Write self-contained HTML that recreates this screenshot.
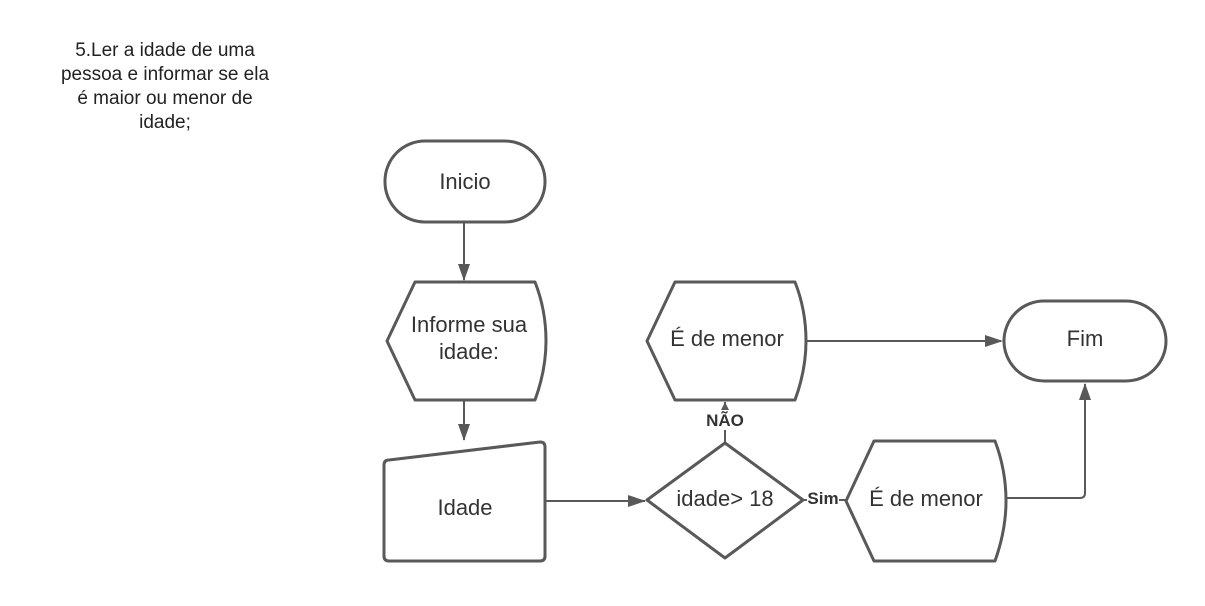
<!DOCTYPE html>
<html><head><meta charset="utf-8"><style>
body{margin:0;background:#fff;width:1205px;height:601px;overflow:hidden;font-family:"Liberation Sans",sans-serif}
</style></head><body>
<svg width="1205" height="601" xmlns="http://www.w3.org/2000/svg" font-family="Liberation Sans, sans-serif">
<text x="165" y="56" font-size="19" fill="#222" text-anchor="middle">5.Ler a idade de uma</text>
<text x="165" y="80" font-size="19" fill="#222" text-anchor="middle">pessoa e informar se ela</text>
<text x="165" y="104" font-size="19" fill="#222" text-anchor="middle">é maior ou menor de</text>
<text x="165" y="128" font-size="19" fill="#222" text-anchor="middle">idade;</text>
<g stroke="#595959" stroke-width="3" fill="none" stroke-linejoin="round">
<rect x="385" y="141" width="160" height="81" rx="40"/>
<path d="M415,282 H535 Q546,310 546,341 Q546,370 535,400 H415 L387,341 Z"/>
<path d="M675,282 H795 Q806,310 806,341 Q806,370 795,400 H675 L647,341 Z"/>
<path d="M874,441 H995 Q1006,470 1006,501 Q1006,530 995,561 H874 L846,501 Z"/>
<rect x="1004" y="301" width="162" height="80" rx="40"/>
<path d="M389,460 L540,442 Q545,442 545,447 V556 Q545,561 540,561 H389 Q384,561 384,556 V465 Q384,460 389,460 Z"/>
<path d="M725,443 L803,500 L725,558 L647,500 Z"/>
</g>
<g stroke="#595959" stroke-width="2" fill="none">
<path d="M464,222 V280"/><path d="M464,400 V440"/>
<path d="M546,501 H645"/>
<path d="M725,443 V402"/>
<path d="M806,341 H1001"/>
<path d="M1006,498 H1080 Q1085,498 1085,493 V384"/>
<path d="M803,500 H846"/>
</g>
<g fill="#595959">
<path d="M458,264 L470,264 L464,281 Z"/>
<path d="M458,424 L470,424 L464,441 Z"/>
<path d="M628,495 L628,507 L646,501 Z"/>
<path d="M985,335 L985,347 L1003,341 Z"/>
<path d="M1079,400 L1091,400 L1085,383 Z"/>
<path d="M721,410 L729,410 L725,402 Z"/>
</g>
<rect x="703" y="410" width="44" height="20" fill="#fff"/>
<rect x="807" y="490" width="32" height="18" fill="#fff"/>
<g fill="#333" font-size="22" text-anchor="middle">
<text x="465" y="189">Inicio</text>
<text x="469" y="332">Informe sua</text>
<text x="469" y="359">idade:</text>
<text x="727" y="346">É de menor</text>
<text x="926" y="506">É de menor</text>
<text x="1085" y="346">Fim</text>
<text x="465" y="515">Idade</text>
<text x="725" y="506">idade&gt; 18</text>
</g>
<g fill="#333" font-size="17" font-weight="bold" text-anchor="middle">
<text x="725" y="426">NÃO</text>
<text x="823" y="504">Sim</text>
</g>
</svg>
</body></html>
